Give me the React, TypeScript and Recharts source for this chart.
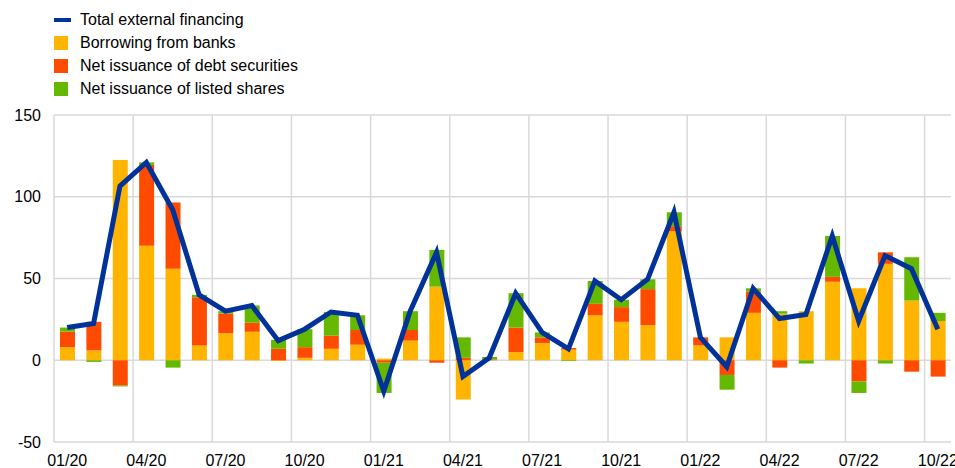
import { Bar, CartesianGrid, ComposedChart, Line, XAxis, YAxis } from "recharts";

const months = [
  "01/20", "02/20", "03/20", "04/20", "05/20", "06/20", "07/20", "08/20", "09/20", "10/20", "11/20", "12/20",
  "01/21", "02/21", "03/21", "04/21", "05/21", "06/21", "07/21", "08/21", "09/21", "10/21", "11/21", "12/21",
  "01/22", "02/22", "03/22", "04/22", "05/22", "06/22", "07/22", "08/22", "09/22", "10/22",
];
const banks = [8, 6, 122.5, 70, 56, 9, 16.5, 17.5, -0.5, 1.5, 7, 9.5, 1, 12, 45, -24, 0, 5, 10.5, 6.5, 27.5, 23.5, 21.5, 79, 9, 14, 29, 28.5, 30, 48, 44, 59, 36.5, 24];
const debt = [9.5, 17.5, -15.5, 49.5, 40.5, 29.5, 12, 5.5, 7, 6.5, 8, 9, -1.5, 6.5, -1.5, 1.5, 0.5, 15, 3.5, 1, 7, 9, 22, 3, 5, -9, 13, -4.5, 0, 3, -13, 7, -7, -10];
const shares = [2.5, -1, -0.5, 1.5, -4.5, 1.5, 1.5, 10.5, 5.5, 11, 14.5, 9, -18.5, 11.5, 22.5, 12.5, 1.5, 21, 3, -0.5, 14, 4.5, 6, 8.5, 0, -9, 2, 1.5, -2, 25, -7, -2, 26.5, 5];
const total = [20, 22.5, 106.5, 121, 92, 40, 30, 33.5, 12, 19, 29.5, 27.5, -19, 30, 66, -10, 1.5, 41, 17, 7, 48.5, 37, 49.5, 90.5, 14, -4, 44, 25.5, 28, 76, 24, 64, 56, 19];
const yTicks = [-50, 0, 50, 100, 150];

const data = months.map((m, i) => ({
  month: m,
  banks: banks[i],
  debt: debt[i],
  shares: shares[i],
  total: total[i],
}));

const BLUE = "#003299";
const YELLOW = "#FFB400";
const RED = "#FF4B00";
const GREEN = "#65B800";
const FONT = "'Liberation Sans', Arial, sans-serif";

const legendItems = [
  { label: "Total external financing", color: BLUE, line: true },
  { label: "Borrowing from banks", color: YELLOW },
  { label: "Net issuance of debt securities", color: RED },
  { label: "Net issuance of listed shares", color: GREEN },
];

const Legend = () => (
  <div style={{ position: "absolute", left: 54, top: 8, fontFamily: FONT, fontSize: 16, color: "#000" }}>
    {legendItems.map((it) => (
      <div key={it.label} style={{ display: "flex", alignItems: "center", height: 23 }}>
        <div style={{ width: 26, display: "flex", alignItems: "center" }}>
          <div
            style={{
              width: it.line ? 17 : 14,
              height: it.line ? 4 : 14,
              background: it.color,
            }}
          />
        </div>
        <span>{it.label}</span>
      </div>
    ))}
  </div>
);

export default function App() {
  return (
    <div style={{ position: "absolute", left: 0, top: 0, width: 955, height: 468, background: "#fff" }}>
      <Legend />
      <ComposedChart
        width={955}
        height={468}
        data={data}
        stackOffset="sign"
        margin={{ top: 115, right: 4, left: 0, bottom: 0 }}
      >
        <CartesianGrid
          stroke="#d9d9d9"
          strokeWidth={1.5}
          verticalCoordinatesGenerator={({ offset }: any) =>
            months
              .map((_, i) => i)
              .filter((i) => i % 3 === 0)
              .map((i) => offset.left + (i * offset.width) / months.length)
          }
        />
        <XAxis
          dataKey="month"
          interval={2}
          tickLine={false}
          axisLine={false}
          tickSize={0}
          tickMargin={13}
          height={26}
          tick={{ fill: "#000", fontSize: 16, fontFamily: FONT }}
        />
        <YAxis
          domain={[-50, 150]}
          ticks={yTicks}
          width={54}
          tickLine={false}
          axisLine={false}
          tickSize={0}
          tickMargin={13}
          tick={{ fill: "#000", fontSize: 16, fontFamily: FONT }}
        />
        <Bar dataKey="banks" stackId="a" fill={YELLOW} barSize={15} isAnimationActive={false} />
        <Bar dataKey="debt" stackId="a" fill={RED} barSize={15} isAnimationActive={false} />
        <Bar dataKey="shares" stackId="a" fill={GREEN} barSize={15} isAnimationActive={false} />
        <Line
          dataKey="total"
          type="linear"
          stroke={BLUE}
          strokeWidth={5}
          dot={false}
          isAnimationActive={false}
        />
      </ComposedChart>
    </div>
  );
}
